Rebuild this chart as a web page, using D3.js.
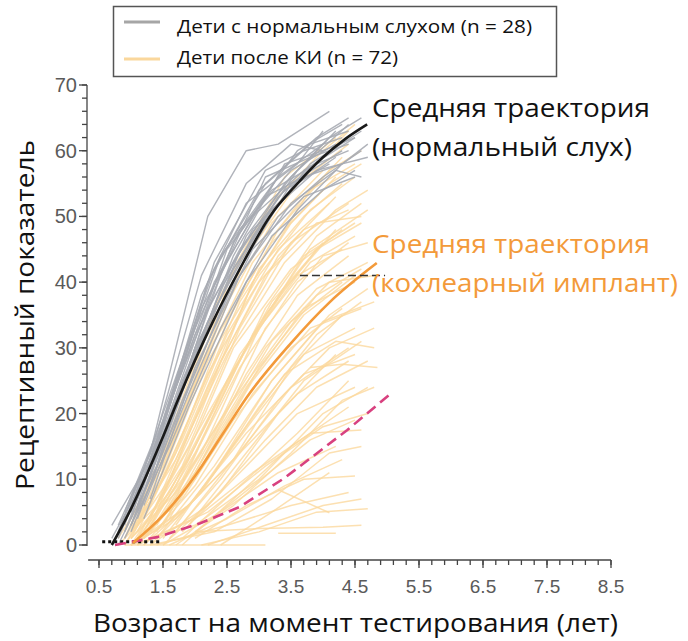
<!DOCTYPE html>
<html><head><meta charset="utf-8">
<script src="https://cdn.jsdelivr.net/npm/d3@7"></script>
<style>body{margin:0;background:#fff;} svg{display:block;}</style>
</head><body>
<svg id="chart" width="688" height="641"></svg>
<script>
// ---------- DATA ----------
const xMajorTicks = [0.5, 1.5, 2.5, 3.5, 4.5, 5.5, 6.5, 7.5, 8.5];
const yMajorTicks = [0, 10, 20, 30, 40, 50, 60, 70];
const xTickLabels = ["0.5", "1.5", "2.5", "3.5", "4.5", "5.5", "6.5", "7.5", "8.5"];

const legendLabels = ["Дети с нормальным слухом (n = 28)", "Дети после КИ (n = 72)"];
const annotationNH = ["Средняя траектория", "(нормальный слух)"];
const annotationCI = ["Средняя траектория", "(кохлеарный имплант)"];
const xTitle = "Возраст на момент тестирования (лет)";
const yTitle = "Рецептивный показатель";

const nhMean = [[0.7,0],[1.0,5.5],[1.48,16],[1.73,22],[2.28,34],[2.7,42],[3.17,50],[3.6,55],[4.0,59],[4.35,61.8],[4.69,64]];
const ciMean = [[1.03,0.3],[1.5,4.5],[2.0,10.5],[2.44,17],[2.81,22.5],[3.48,30.5],[4.11,37],[4.84,42.9]];
const ciPredicted = [[0.75,0],[1.41,1.2],[2.08,3.3],[2.7,5.8],[3.4,10.2],[4.38,17.5],[5.09,23.3]];
const baselineDotted = [[0.55,0.5],[1.48,0.5]];
const targetDashed = [[3.64,41],[4.97,41]];

const nhChildren = [
 [[0.8,2],[1.3,14],[2.2,50],[2.8,60],[3.3,61],[4.1,66]],
 [[0.9,3],[1.5,20],[2.3,42],[3.1,55],[3.9,62],[4.4,65]],
 [[1.0,4],[1.6,22],[2.4,44],[3.0,52],[3.6,60],[4.3,64]],
 [[0.8,1],[1.4,15],[2.1,36],[2.9,50],[3.7,57],[4.5,62]],
 [[1.1,6],[1.7,24],[2.6,46],[3.3,56],[4.0,61]],
 [[0.9,2],[1.5,17],[2.2,34],[3.0,48],[3.8,58],[4.6,63]],
 [[1.0,5],[1.6,20],[2.5,45],[3.2,54],[3.9,58],[4.4,60]],
 [[0.7,1],[1.2,10],[2.0,33],[2.7,48],[3.5,57],[4.2,61]],
 [[1.2,8],[1.8,25],[2.6,43],[3.4,55],[4.1,62],[4.6,65]],
 [[0.8,3],[1.4,16],[2.3,40],[3.1,53],[3.7,56],[4.3,58]],
 [[1.0,2],[1.7,19],[2.5,38],[3.3,50],[4.0,56],[4.6,60]],
 [[1.1,4],[1.8,22],[2.7,42],[3.5,55],[4.3,60]],
 [[0.9,4],[1.3,12],[2.1,38],[2.8,52],[3.6,58],[4.0,63]],
 [[1.0,3],[1.6,18],[2.4,39],[3.2,51],[3.9,57],[4.7,59]],
 [[1.3,9],[1.9,26],[2.8,47],[3.5,56],[4.2,63]],
 [[0.8,2],[1.5,19],[2.2,40],[3.0,54],[3.8,61],[4.4,63]],
 [[1.2,6],[1.9,23],[2.7,41],[3.5,52],[4.2,57],[4.6,56]],
 [[0.9,1],[1.6,15],[2.4,33],[3.2,47],[4.0,54],[4.5,57]],
 [[1.0,6],[1.5,18],[2.3,43],[3.1,57],[3.7,60],[4.3,62]],
 [[1.4,12],[2.0,30],[2.9,47],[3.6,57],[4.4,64]],
 [[0.8,0],[1.4,12],[2.2,36],[2.9,48],[3.6,55],[4.2,59]],
 [[1.1,5],[1.7,21],[2.6,44],[3.4,58],[4.0,60],[4.5,62]],
 [[1.0,3],[1.8,24],[2.6,42],[3.3,53],[4.1,60]],
 [[0.9,5],[1.4,17],[2.1,41],[2.8,55],[3.5,61],[4.0,60]],
 [[1.2,4],[1.9,21],[2.8,40],[3.6,51],[4.3,58],[4.7,61]],
 [[0.7,3],[1.3,13],[2.0,32],[2.7,45],[3.4,54],[4.1,58]],
 [[1.1,7],[1.6,19],[2.4,41],[3.1,56],[3.8,59],[4.4,61]],
 [[1.3,7],[2.0,27],[2.9,45],[3.7,53],[4.5,56]]
];

const ciChildren = [
 [[1.0,2],[1.8,20],[2.6,42],[3.4,56],[4.2,62]],
 [[0.9,1],[1.6,16],[2.4,38],[3.2,52],[4.0,60],[4.5,64]],
 [[1.1,3],[1.9,22],[2.8,44],[3.6,55],[4.4,61]],
 [[1.2,2],[2.0,18],[2.9,40],[3.8,54],[4.5,58]],
 [[1.0,1],[1.7,14],[2.5,34],[3.3,48],[4.1,57],[4.6,60]],
 [[1.3,4],[2.1,22],[3.0,42],[3.7,50],[4.3,55]],
 [[0.9,0],[1.6,10],[2.4,28],[3.3,44],[4.2,53]],
 [[1.1,1],[1.9,15],[2.7,33],[3.5,46],[4.4,52]],
 [[1.4,5],[2.2,24],[3.1,41],[3.9,49],[4.6,50]],
 [[1.0,0],[1.8,12],[2.6,30],[3.5,42],[4.3,48]],
 [[1.2,1],[2.0,14],[2.9,32],[3.8,45],[4.7,51]],
 [[1.5,3],[2.3,17],[3.1,33],[4.0,44],[4.7,46]],
 [[1.1,0],[1.9,9],[2.8,26],[3.6,38],[4.4,44]],
 [[1.3,2],[2.2,16],[3.1,30],[3.9,39],[4.7,43]],
 [[1.6,4],[2.4,18],[3.2,31],[4.1,40],[4.8,41]],
 [[1.0,1],[1.7,8],[2.6,22],[3.5,34],[4.3,40]],
 [[1.4,1],[2.3,12],[3.2,25],[4.0,34],[4.8,37]],
 [[1.2,0],[2.0,7],[2.9,19],[3.7,29],[4.5,33]],
 [[1.7,3],[2.5,14],[3.4,26],[4.2,31],[4.8,30]],
 [[1.3,0],[2.2,6],[3.1,16],[3.9,24],[4.7,28]],
 [[1.8,2],[2.7,11],[3.6,20],[4.5,24]],
 [[1.1,0],[2.0,4],[2.9,11],[3.8,17],[4.6,17.5]],
 [[1.5,0],[2.4,5],[3.3,11],[4.2,15]],
 [[2.0,1],[2.8,6],[3.7,10],[4.5,10.5]],
 [[2.0,2],[3.0,2.5],[4.0,2.7],[4.6,3]],
 [[3.3,1.8],[4.2,1.8]],
 [[0.9,0],[2.0,0],[3.1,0]],
 [[3.3,8.4],[4.1,4.9]],
 [[3.8,27],[4.3,27.5],[4.85,27]],
 [[0.9,2],[1.5,14],[2.3,36],[3.1,50],[3.9,58],[4.4,63]],
 [[1.0,3],[1.6,15],[2.4,35],[3.2,49],[4.0,57]],
 [[0.8,1],[1.5,12],[2.3,31],[3.2,46],[4.1,55],[4.6,58]],
 [[1.2,4],[1.9,19],[2.7,37],[3.5,49],[4.2,56]],
 [[1.0,2],[1.7,13],[2.5,29],[3.4,43],[4.2,51],[4.7,54]],
 [[1.3,3],[2.0,15],[2.8,30],[3.7,44],[4.5,49]],
 [[1.1,1],[1.8,10],[2.7,27],[3.6,40],[4.4,46]],
 [[1.4,2],[2.1,12],[3.0,27],[3.9,38],[4.6,42]],
 [[1.2,0],[2.0,9],[2.9,23],[3.8,33],[4.6,36]],
 [[1.6,1],[2.4,10],[3.3,22],[4.1,30],[4.8,33]],
 [[1.0,0],[1.9,6],[2.8,17],[3.7,26],[4.5,29]],
 [[1.8,0],[2.6,7],[3.5,15],[4.4,21]],
 [[1.3,1],[2.2,5],[3.1,12],[4.0,18],[4.7,20]],
 [[1.6,0],[2.5,4],[3.4,9],[4.3,13]],
 [[2.2,0],[3.1,3],[4.0,6],[4.6,7]],
 [[0.9,1],[1.4,9],[2.1,27],[2.9,43],[3.7,53],[4.3,59]],
 [[1.0,2],[1.5,11],[2.2,28],[3.0,41],[3.8,51],[4.5,56]],
 [[1.1,0],[1.7,9],[2.5,25],[3.4,39],[4.2,48]],
 [[1.4,3],[2.1,14],[3.0,33],[3.8,43],[4.5,47]],
 [[1.2,1],[2.0,11],[2.8,24],[3.7,36],[4.5,40]],
 [[1.5,1],[2.3,11],[3.2,25],[4.1,35],[4.7,39]],
 [[1.7,2],[2.6,13],[3.5,27],[4.3,35]],
 [[1.9,3],[2.8,14],[3.7,25],[4.6,31]],
 [[1.0,0],[2.0,3],[3.0,10],[4.0,20],[4.7,24]],
 [[1.3,0],[2.3,2],[3.2,7],[4.1,14],[4.6,15]],
 [[2.4,0],[3.2,5],[4.1,11]],
 [[1.1,1],[1.8,7],[2.6,19],[3.5,30],[4.3,36]],
 [[0.8,0],[1.4,6],[2.2,20],[3.1,35],[3.9,45],[4.6,49]],
 [[1.0,1],[1.6,8],[2.4,23],[3.2,37],[4.0,46]],
 [[1.3,2],[2.0,10],[2.9,25],[3.7,35],[4.5,41]],
 [[1.5,0],[2.4,8],[3.3,20],[4.2,29]],
 [[1.2,1],[1.9,6],[2.8,15],[3.6,23],[4.4,28]],
 [[2.0,2],[2.9,9],[3.8,16],[4.5,19]],
 [[1.4,0],[2.5,3],[3.5,6],[4.4,8]],
 [[0.9,0],[1.5,10],[2.2,26],[3.0,40],[3.7,48],[4.4,51]],
 [[1.1,2],[1.8,16],[2.5,32],[3.3,45],[4.1,52]],
 [[1.6,5],[2.3,20],[3.1,36],[3.9,47],[4.6,52]],
 [[1.2,2],[1.9,13],[2.7,29],[3.6,41],[4.3,45]],
 [[1.7,0],[2.6,6],[3.5,14],[4.3,22],[4.8,24]],
 [[1.0,0],[1.7,4],[2.6,13],[3.5,24],[4.4,30]],
 [[2.1,0],[3.0,2],[3.9,5],[4.7,5.5]],
 [[1.3,0],[2.1,8],[3.0,21],[3.9,32],[4.6,37]],
 [[1.8,1],[2.7,9],[3.6,17],[4.4,25]]
];

// ---------- DRAW ----------
const svg = d3.select("#chart");
const x = d3.scaleLinear().domain([0.5, 8.5]).range([99, 611]);
const y = d3.scaleLinear().domain([0, 70]).range([545, 85]);

const colNH = "#a7abb3", colCI = "#fbd89d", colCIMean = "#f39a3a", colPink = "#d8417f";
const line = d3.line().x(d => x(d[0])).y(d => y(d[1]));
const smooth = d3.line().x(d => x(d[0])).y(d => y(d[1])).curve(d3.curveMonotoneX);

// individual trajectories
svg.append("g").selectAll("path").data(ciChildren).join("path")
  .attr("d", line).attr("fill", "none").attr("stroke", colCI)
  .attr("stroke-width", 1.5).attr("stroke-opacity", 0.8).attr("stroke-linejoin", "round");
svg.append("g").selectAll("path").data(nhChildren).join("path")
  .attr("d", line).attr("fill", "none").attr("stroke", colNH)
  .attr("stroke-width", 1.4).attr("stroke-opacity", 0.9).attr("stroke-linejoin", "round");

// reference lines
svg.append("path").attr("d", line(baselineDotted)).attr("fill", "none")
  .attr("stroke", "#111").attr("stroke-width", 3).attr("stroke-dasharray", "3,3");
svg.append("path").attr("d", line(ciPredicted)).attr("fill", "none")
  .attr("stroke", colPink).attr("stroke-width", 2.6).attr("stroke-dasharray", "11,6");

// mean trajectories
svg.append("path").attr("d", smooth(ciMean)).attr("fill", "none")
  .attr("stroke", colCIMean).attr("stroke-width", 2.6);
svg.append("path").attr("d", smooth(nhMean)).attr("fill", "none")
  .attr("stroke", "#1a1a1a").attr("stroke-width", 2.6);
svg.append("path").attr("d", line(targetDashed)).attr("fill", "none")
  .attr("stroke", "#333").attr("stroke-width", 1.5).attr("stroke-dasharray", "8,4");

// axes
const axisCol = "#444", labelCol = "#5a5a5a";
const xAxis = svg.append("g").attr("transform", "translate(0,560)");
xAxis.append("line").attr("x1", x(0.33)).attr("x2", x(8.5)).attr("stroke", axisCol).attr("stroke-width", 1.3);
xAxis.selectAll("line.minor").data(d3.range(0.5, 8.51, 0.2)).join("line").attr("class", "minor")
  .attr("x1", d => x(d)).attr("x2", d => x(d)).attr("y1", 0).attr("y2", 5)
  .attr("stroke", axisCol).attr("stroke-width", 1.3);
xAxis.selectAll("line.major").data(xMajorTicks).join("line").attr("class", "major")
  .attr("x1", d => x(d)).attr("x2", d => x(d)).attr("y1", 0).attr("y2", 8)
  .attr("stroke", axisCol).attr("stroke-width", 1.3);
xAxis.selectAll("text").data(xMajorTicks).join("text")
  .attr("x", d => x(d)).attr("y", 33).attr("text-anchor", "middle")
  .attr("font-family", "Liberation Sans, Arial, sans-serif").attr("font-size", 19)
  .attr("fill", labelCol).text((d, i) => xTickLabels[i]);

const yAxis = svg.append("g").attr("transform", "translate(87,0)");
yAxis.append("line").attr("y1", y(70)).attr("y2", y(0) + 1).attr("stroke", axisCol).attr("stroke-width", 1.3);
yAxis.selectAll("line.minor").data(d3.range(0, 70.1, 2)).join("line").attr("class", "minor")
  .attr("y1", d => y(d)).attr("y2", d => y(d)).attr("x1", 0).attr("x2", -5)
  .attr("stroke", axisCol).attr("stroke-width", 1.3);
yAxis.selectAll("line.major").data(yMajorTicks).join("line").attr("class", "major")
  .attr("y1", d => y(d)).attr("y2", d => y(d)).attr("x1", 0).attr("x2", -8)
  .attr("stroke", axisCol).attr("stroke-width", 1.3);
yAxis.selectAll("text").data(yMajorTicks).join("text")
  .attr("x", -10).attr("y", d => y(d) + 7).attr("text-anchor", "end")
  .attr("font-family", "Liberation Sans, Arial, sans-serif").attr("font-size", 20)
  .attr("fill", labelCol).text(d => d);

// text helper
const FONT = "Open Sans, Lato, sans-serif";
function txt(g, s, xx, yy, size, w, fill) {
  return g.append("text").attr("x", xx).attr("y", yy).attr("font-family", FONT)
    .attr("font-size", size).attr("fill", fill).attr("textLength", w)
    .attr("lengthAdjust", "spacingAndGlyphs").text(s);
}

// axis titles
txt(svg, xTitle, 93, 632, 25, 525, "#111");
const yt = svg.append("g").attr("transform", "translate(34,490) rotate(-90)");
txt(yt, yTitle, 0, 0, 25, 350, "#111");

// annotations
txt(svg, annotationNH[0], 372, 117, 26, 278, "#111");
txt(svg, annotationNH[1], 372, 156, 26, 260, "#111");
txt(svg, annotationCI[0], 372, 253, 26, 278, colCIMean);
txt(svg, annotationCI[1], 372, 292, 26, 306, colCIMean);

// legend
const lg = svg.append("g");
lg.append("rect").attr("x", 113.5).attr("y", 6.5).attr("width", 443).attr("height", 70)
  .attr("fill", "#fff").attr("stroke", "#555").attr("stroke-width", 1.5);
lg.append("line").attr("x1", 124).attr("x2", 160).attr("y1", 22).attr("y2", 22).attr("stroke", "#a6a6a6").attr("stroke-width", 3);
lg.append("line").attr("x1", 124).attr("x2", 160).attr("y1", 59).attr("y2", 59).attr("stroke", "#fad79c").attr("stroke-width", 3);
txt(lg, legendLabels[0], 177, 33, 18, 355, "#111");
txt(lg, legendLabels[1], 177, 64, 18, 221, "#111");
</script>
</body></html>
